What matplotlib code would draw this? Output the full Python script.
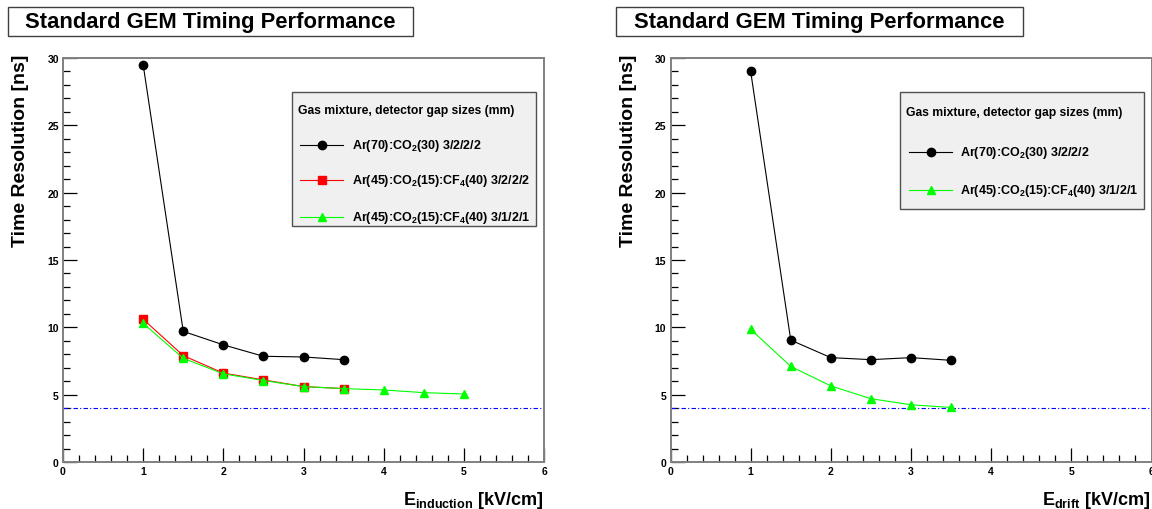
import matplotlib
matplotlib.use("Agg")
import matplotlib.pyplot as plt
from matplotlib.patches import Rectangle
from matplotlib.lines import Line2D
from matplotlib.ticker import MultipleLocator

plt.rcParams['font.family'] = ['Liberation Sans', 'DejaVu Sans']
plt.rcParams['font.weight'] = 'bold'
plt.rcParams['mathtext.fontset'] = 'custom'
plt.rcParams['mathtext.rm'] = 'Liberation Sans:bold'
plt.rcParams['mathtext.bf'] = 'Liberation Sans:bold'
plt.rcParams['mathtext.it'] = 'Liberation Sans:bold'
plt.rcParams['mathtext.default'] = 'bf'

# ---- data ----
title = "Standard GEM Timing Performance"
ylabel = "Time Resolution [ns]"
legend_header = "Gas mixture, detector gap sizes (mm)"

# Left panel: E_induction scan
ind_x_arco2 = [1.0, 1.5, 2.0, 2.5, 3.0, 3.5]
ind_y_arco2 = [29.5, 9.7, 8.7, 7.85, 7.8, 7.6]
ind_x_cf4_3222 = [1.0, 1.5, 2.0, 2.5, 3.0, 3.5]
ind_y_cf4_3222 = [10.6, 7.9, 6.6, 6.1, 5.6, 5.45]
ind_x_cf4_3121 = [1.0, 1.5, 2.0, 2.5, 3.0, 3.5, 4.0, 4.5, 5.0]
ind_y_cf4_3121 = [10.3, 7.7, 6.55, 6.05, 5.6, 5.45, 5.35, 5.15, 5.05]

# Right panel: E_drift scan
drift_x_arco2 = [1.0, 1.5, 2.0, 2.5, 3.0, 3.5]
drift_y_arco2 = [29.0, 9.05, 7.75, 7.6, 7.75, 7.55]
drift_x_cf4_3121 = [1.0, 1.5, 2.0, 2.5, 3.0, 3.5]
drift_y_cf4_3121 = [9.85, 7.1, 5.65, 4.7, 4.25, 4.05]

reference_level = 4.0

lbl_arco2 = r"Ar(70):CO$_{2}$(30) 3/2/2/2"
lbl_cf4_3222 = r"Ar(45):CO$_{2}$(15):CF$_{4}$(40) 3/2/2/2"
lbl_cf4_3121 = r"Ar(45):CO$_{2}$(15):CF$_{4}$(40) 3/1/2/1"

W, H = 1152, 510
fig = plt.figure(figsize=(W / 100, H / 100), dpi=100)


def fx(x):
    return x / W


def fy(y):
    return 1 - y / H


def make_axes(x0px, xlabel):
    ax = fig.add_axes([fx(x0px), fy(463), 481 / W, 404 / H])
    ax.set_xlim(0, 6)
    ax.set_ylim(0, 30)
    ax.xaxis.set_major_locator(MultipleLocator(1))
    ax.xaxis.set_minor_locator(MultipleLocator(0.2))
    ax.yaxis.set_major_locator(MultipleLocator(5))
    ax.yaxis.set_minor_locator(MultipleLocator(1))
    ax.tick_params(which='both', direction='in', colors='black', labelsize=7.5,
                   width=0.9)
    ax.tick_params(which='major', length=10, pad=3)
    ax.tick_params(which='minor', length=5)
    for s in ax.spines.values():
        s.set_color('#808080')
        s.set_linewidth(1.4)
    for lab in ax.get_xticklabels() + ax.get_yticklabels():
        lab.set_fontweight('bold')
    ax.axhline(reference_level, color='blue', lw=0.8, ls=(0, (4, 2, 1, 2)))
    # y label
    fig.text(fx(x0px - 42), fy(55), ylabel, rotation=90, ha='center', va='top',
             fontsize=14, fontweight='bold')
    # x label
    fig.text(fx(x0px + 480), fy(505), xlabel, ha='right', va='baseline',
             fontsize=13, fontweight='bold')
    return ax


def title_box(x0, x1):
    fig.patches.append(Rectangle((fx(x0), fy(37)), fx(x1 - x0), (37 - 8) / H,
                                 transform=fig.transFigure, facecolor='white',
                                 edgecolor='#404040', lw=1.0))
    fig.text(fx((x0 + x1) / 2), fy(22.5), title, ha='center', va='center',
             fontsize=15.8, fontweight='bold')


def legend_box(x0, y0, x1, y1, header_y, entries, line_x0, line_x1, text_x):
    fig.patches.append(Rectangle((fx(x0), fy(y1)), fx(x1 - x0), (y1 - y0) / H,
                                 transform=fig.transFigure, facecolor='#f0f0f0',
                                 edgecolor='#505050', lw=1.0, zorder=5))
    fig.text(fx(x0 + 6), fy(header_y), legend_header, ha='left', va='center',
             fontsize=8.7, fontweight='bold', zorder=6)
    for ey, line in entries:
        fig.lines.append(Line2D([fx(line_x0), fx(line_x1)], [fy(ey), fy(ey)],
                                transform=fig.transFigure, color=line.get_color(),
                                lw=line.get_linewidth(), zorder=6))
        fig.lines.append(Line2D([fx((line_x0 + line_x1) / 2)], [fy(ey)],
                                transform=fig.transFigure, ls='none',
                                marker=line.get_marker(),
                                markersize=line.get_markersize(),
                                color=line.get_markerfacecolor(), zorder=7))
        fig.text(fx(text_x), fy(ey), line.get_label(), ha='left', va='center',
                 fontsize=9, fontweight='bold', zorder=6)


# ---- left panel ----
axL = make_axes(63, r"E$_{\mathbf{induction}}$ [kV/cm]")
l1, = axL.plot(ind_x_arco2, ind_y_arco2, color='black', lw=0.8, marker='o',
               ms=6, label=lbl_arco2, zorder=3)
l2, = axL.plot(ind_x_cf4_3222, ind_y_cf4_3222, color='red', lw=0.8, marker='s',
               ms=5.8, label=lbl_cf4_3222, zorder=3)
l3, = axL.plot(ind_x_cf4_3121, ind_y_cf4_3121, color='#00ff00', lw=0.8, marker='^',
               ms=5.8, label=lbl_cf4_3121, zorder=4)
title_box(8, 413)
legend_box(292, 93, 536, 227, 111, [(146, l1), (181, l2), (218, l3)], 300, 343, 352)

# ---- right panel ----
axR = make_axes(670.5, r"E$_{\mathbf{drift}}$ [kV/cm]")
r1, = axR.plot(drift_x_arco2, drift_y_arco2, color='black', lw=0.8, marker='o',
               ms=6, label=lbl_arco2, zorder=3)
r3, = axR.plot(drift_x_cf4_3121, drift_y_cf4_3121, color='#00ff00', lw=0.8,
               marker='^', ms=5.8, label=lbl_cf4_3121, zorder=4)
title_box(616, 1023)
legend_box(900, 93, 1144, 210, 113, [(153, r1), (191, r3)], 909, 952, 960)

fig.savefig("out.png", dpi=100)
